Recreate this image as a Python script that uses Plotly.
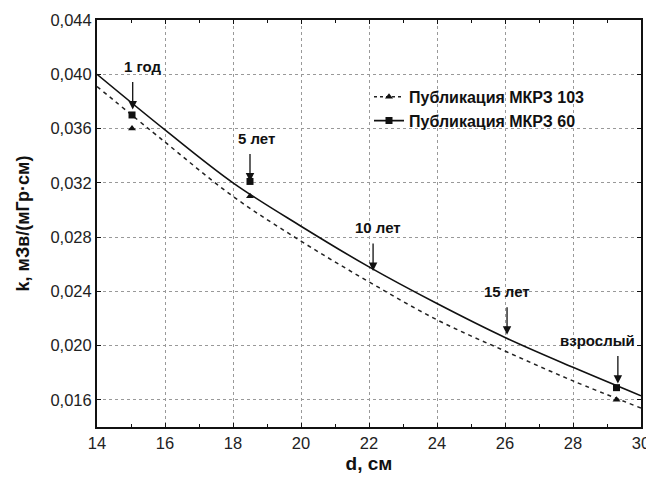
import plotly.graph_objects as go

# curve values
d_curve = [14, 16, 18, 20, 22, 24, 26, 28, 30]
k_icrp60_curve = [0.0400, 0.0359, 0.0320, 0.0288, 0.0258, 0.0231, 0.0206, 0.0184, 0.0163]
k_icrp103_curve = [0.0391, 0.0350, 0.0310, 0.0277, 0.0247, 0.0219, 0.0196, 0.0174, 0.0154]

# discrete points
d_points = [15.03, 18.5, 29.28]
k_icrp60_points = [0.0370, 0.0321, 0.0169]
k_icrp103_points = [0.0360, 0.0310, 0.0160]

# age annotations (arrow heads)
age_labels = ["1 год", "5 лет", "10 лет", "15 лет", "взрослый"]
age_d = [15.05, 18.5, 22.12, 26.06, 29.32]
age_k = [0.0374, 0.0321, 0.0255, 0.0208, 0.0172]
label_dx = [10, 6, 5, 0, -20]

x_ticks = [14, 16, 18, 20, 22, 24, 26, 28, 30]
y_ticks = [0.016, 0.020, 0.024, 0.028, 0.032, 0.036, 0.040, 0.044]

FONT = "Liberation Sans, Arial, sans-serif"

fig = go.Figure()
fig.add_trace(go.Scatter(x=d_curve, y=k_icrp103_curve, mode="lines", line_shape="spline",
                         line=dict(color="#222", width=1.5, dash="4px,4px"), showlegend=False))
fig.add_trace(go.Scatter(x=d_curve, y=k_icrp60_curve, mode="lines", line_shape="spline",
                         line=dict(color="#111", width=1.6), showlegend=False))
fig.add_trace(go.Scatter(x=d_points, y=k_icrp103_points, mode="markers",
                         marker=dict(symbol="triangle-up", size=7, color="#111"), showlegend=False))
fig.add_trace(go.Scatter(x=d_points, y=k_icrp60_points, mode="markers",
                         marker=dict(symbol="square", size=7, color="#111"), showlegend=False))
# legend entries
fig.add_trace(go.Scatter(x=[None], y=[None], mode="lines+markers", name="Публикация МКРЗ 103",
                         line=dict(color="#222", width=1.5, dash="3px,3px"),
                         marker=dict(symbol="triangle-up", size=7, color="#111")))
fig.add_trace(go.Scatter(x=[None], y=[None], mode="lines+markers", name="Публикация МКРЗ 60",
                         line=dict(color="#111", width=1.8),
                         marker=dict(symbol="square", size=7, color="#111")))

for lab, xd, yk, dx in zip(age_labels, age_d, age_k, label_dx):
    fig.add_annotation(x=xd, y=yk, text="", showarrow=True, ax=0, ay=-29,
                       arrowhead=2, arrowsize=1.3, arrowwidth=1.3, arrowcolor="#111")
    fig.add_annotation(x=xd, y=yk, text="<b>" + lab + "</b>", showarrow=False,
                       xshift=dx, yshift=43, font=dict(family=FONT, size=15, color="#111"))

axis_common = dict(showline=True, linecolor="#111", linewidth=2, mirror="ticks",
                   ticks="inside", ticklen=4, tickcolor="#111", automargin=False,
                   showgrid=True, gridcolor="#999", griddash="dot", gridwidth=1,
                   zeroline=False, tickfont=dict(family=FONT, size=16.5, color="#222"))

fig.update_xaxes(range=[14, 30], tickvals=x_ticks, ticktext=[str(v) for v in x_ticks],
                 minor=dict(dtick=1, ticks="inside", ticklen=3, tickcolor="#111", showgrid=False),
                 title=dict(text="<b>d, см</b>", font=dict(family=FONT, size=19, color="#111"), standoff=6),
                 **axis_common)
fig.update_yaxes(range=[0.014, 0.044], tickvals=y_ticks, tickformat=".3f",
                 title=dict(text="<b>k, мЗв/(мГр·см)</b>", font=dict(family=FONT, size=18, color="#111"), standoff=16),
                 **axis_common)

# the page body adds an 8px offset, so margins are reduced accordingly
fig.update_layout(width=654, height=482, margin=dict(l=89, r=21, t=12, b=63),
                  paper_bgcolor="white", plot_bgcolor="white", separators=", ",
                  legend=dict(x=0.5, y=0.853, xanchor="left", yanchor="top",
                              bgcolor="rgba(0,0,0,0)", itemwidth=30, tracegroupgap=0,
                              font=dict(family=FONT, size=16, color="#111", weight="bold")))

fig.write_html("out.html")
